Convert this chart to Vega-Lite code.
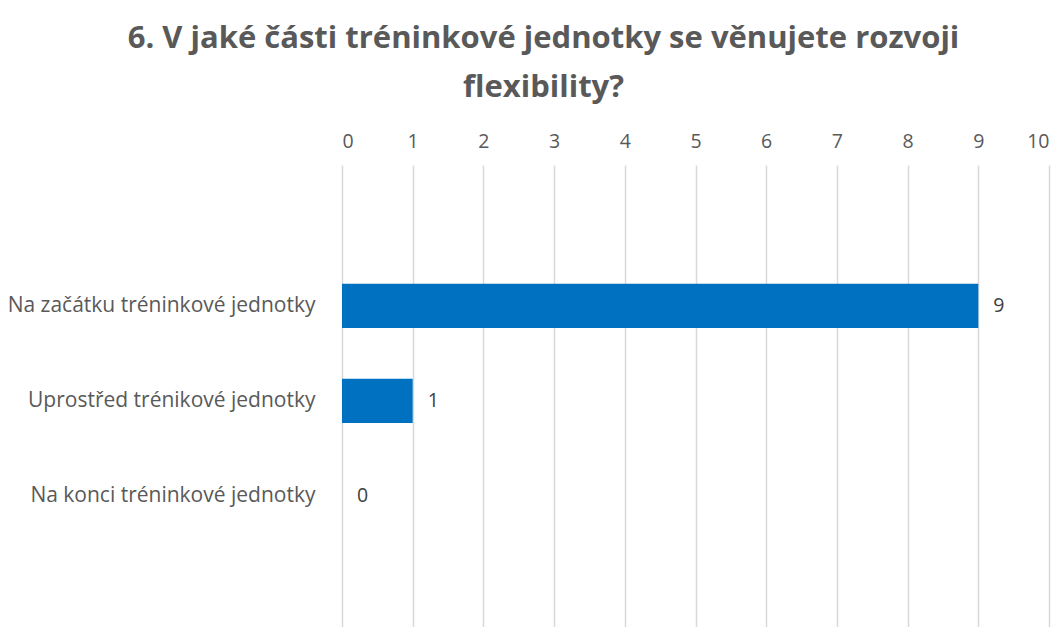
{
  "$schema": "https://vega.github.io/schema/vega-lite/v6.json",
  "width": 707,
  "height": 462,
  "autosize": {"type": "none"},
  "padding": {"left": 342, "top": 165, "right": 13, "bottom": 0},
  "background": "white",
  "title": {
    "text": ["6. V jaké části tréninkové jednotky se věnujete rozvoji", "flexibility?"],
    "font": "Open Sans",
    "fontSize": 31,
    "fontWeight": "bold",
    "color": "#595959",
    "anchor": "middle",
    "dx": -152,
    "offset": 27,
    "lineHeight": 49
  },
  "data": {
    "values": [
      {"kategorie": "Na začátku tréninkové jednotky", "pocet": 9},
      {"kategorie": "Uprostřed trénikové jednotky", "pocet": 1},
      {"kategorie": "Na konci tréninkové jednotky", "pocet": 0}
    ]
  },
  "encoding": {
    "y": {
      "field": "kategorie",
      "type": "nominal",
      "sort": null,
      "scale": {"paddingInner": 0.14, "paddingOuter": 1, "align": 0.526},
      "axis": {
        "title": null,
        "domain": false,
        "ticks": false,
        "labelPadding": 27,
        "labelFont": "Open Sans",
        "labelFontSize": 21,
        "labelColor": "#595959",
        "labelLimit": 400
      }
    },
    "x": {
      "field": "pocet",
      "type": "quantitative",
      "scale": {"domain": [0, 10]},
      "axis": {
        "orient": "top",
        "title": null,
        "domain": false,
        "ticks": false,
        "values": [0, 1, 2, 3, 4, 5, 6, 7, 8, 9, 10],
        "labelOverlap": false,
        "labelPadding": 14,
        "labelFont": "Open Sans",
        "labelFontSize": 19.5,
        "labelColor": "#595959",
        "gridColor": "#d9d9d9",
        "gridWidth": 1.5
      }
    }
  },
  "layer": [
    {"mark": {"type": "bar", "color": "#0070C0", "height": {"band": 0.54}}},
    {
      "mark": {"type": "text", "align": "left", "dx": 15, "font": "Open Sans", "fontSize": 19.5, "color": "#404040"},
      "encoding": {"text": {"field": "pocet", "type": "quantitative"}}
    }
  ],
  "config": {"view": {"stroke": null}}
}
